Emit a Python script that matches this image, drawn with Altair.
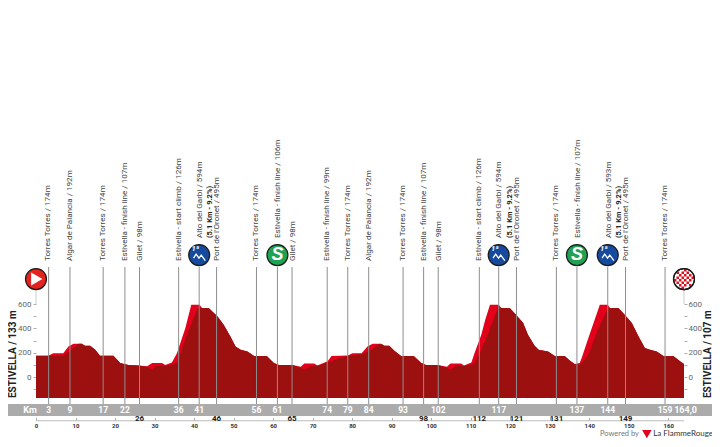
import altair as alt
import pandas as pd

# ---- profile (km, metres) ----
top_km = [0, 3.1, 4.4, 6.9, 8.2, 9.5, 11.6, 12.4, 13.7, 15.0, 16.2, 19.6, 21.3, 23.4, 26.0, 28.1, 29.4, 31.9, 32.7, 34.4, 35.7, 37.8, 39.3, 41.4, 42.0, 43.7, 45.9, 47.5, 49.2, 50.5, 51.8, 53.5, 55.2, 58.4, 60.2, 61.5, 64.9, 67.0, 67.9, 70.4, 71.2, 73.8, 74.8, 78.9, 80.1, 82.4, 83.9, 85.2, 87.3, 88.2, 89.4, 90.7, 92.4, 95.6, 97.5, 98.7, 101.7, 104.0, 104.9, 107.6, 108.3, 110.2, 111.0, 112.7, 113.7, 114.9, 117.1, 117.8, 119.9, 121.6, 123.3, 124.5, 126.2, 127.2, 129.6, 131.3, 133.8, 135.1, 136.4, 137.6, 138.1, 139.8, 142.7, 144.7, 145.3, 147.4, 149.1, 150.8, 152.5, 154.1, 155.4, 157.1, 158.8, 161.3, 163.0, 164]
top_m = [175, 175, 195, 195, 252, 274, 274, 258, 258, 225, 175, 175, 115, 99, 96, 88, 115, 115, 100, 120, 197, 403, 595, 595, 567, 567, 499, 430, 334, 252, 225, 211, 173, 173, 115, 99, 99, 85, 112, 112, 96, 129, 173, 178, 195, 195, 252, 274, 274, 258, 258, 216, 173, 173, 115, 99, 99, 85, 112, 112, 96, 120, 197, 348, 470, 595, 595, 567, 567, 507, 444, 348, 258, 225, 211, 173, 173, 137, 107, 115, 156, 321, 595, 595, 567, 567, 507, 444, 334, 238, 225, 211, 173, 173, 129, 107]

dark_km = [0, 3.1, 6.9, 8.9, 10.8, 11.6, 12.4, 13.7, 15.0, 16.2, 19.6, 21.3, 23.4, 26.0, 28.1, 29.4, 30.3, 32.0, 33.0, 35.7, 38.2, 40.7, 41.4, 42.0, 43.7, 45.9, 47.5, 49.2, 50.5, 51.8, 53.5, 55.2, 58.4, 60.2, 61.5, 64.9, 67.0, 67.9, 69.6, 71.7, 73.4, 74.8, 76.7, 78.9, 82.7, 84.8, 86.5, 87.3, 88.2, 89.4, 90.7, 92.4, 95.6, 97.5, 98.7, 101.7, 104.0, 104.9, 106.4, 108.5, 110.2, 111.0, 112.7, 114.8, 116.9, 117.8, 119.9, 121.6, 123.3, 124.5, 126.2, 127.2, 129.6, 131.3, 133.8, 135.1, 136.4, 137.9, 139.8, 141.9, 144.7, 145.3, 147.4, 149.1, 150.8, 152.5, 154.1, 155.4, 157.1, 158.8, 161.3, 163.0, 164]
dark_m = [175, 175, 175, 225, 274, 274, 258, 258, 225, 175, 175, 115, 99, 96, 82, 60, 88, 96, 88, 115, 348, 553, 573, 567, 567, 499, 430, 334, 252, 225, 211, 173, 173, 115, 99, 99, 74, 60, 88, 96, 115, 129, 156, 173, 189, 225, 266, 274, 258, 258, 216, 173, 173, 115, 99, 99, 74, 60, 96, 90, 101, 115, 225, 389, 567, 567, 567, 507, 444, 348, 258, 225, 211, 173, 173, 137, 101, 107, 184, 362, 567, 567, 567, 507, 444, 334, 238, 225, 211, 173, 173, 129, 107]

# ---- waypoints ----
mark_pos = [3.2, 8.6, 17.0, 22.5, 26.2, 36.1, 41.3, 45.7, 55.8, 61.1, 64.8, 73.7, 78.9, 84.2, 92.9, 98.1, 101.8, 112.2, 117.1, 121.6, 131.7, 136.9, 144.7, 149.2, 159.2]
mark_km = ["3", "9", "17", "22", "26", "36", "41", "46", "56", "61", "65", "74", "79", "84", "93", "98", "102", "112", "117", "121", "131", "137", "144", "149", "159"]
mark_low = [False, False, False, False, True, False, False, True, False, False, True, False, False, False, False, True, False, True, False, True, True, False, False, True, False]
mark_text = ["Torres Torres / 174m", "Algar de Palancia / 192m", "Torres Torres / 174m", "Estivella - finish line / 107m", "Gilet / 98m", "Estivella - start climb / 126m", "Alto del Garbi / 594m", "Port de l'Oronet / 495m", "Torres Torres / 174m", "Estivella - finish line / 106m", "Gilet / 98m", "Estivella - finish line / 99m", "Torres Torres / 174m", "Algar de Palancia / 192m", "Torres Torres / 174m", "Estivella - finish line / 107m", "Gilet / 98m", "Estivella - start climb / 126m", "Alto del Garbi / 594m", "Port de l'Oronet / 495m", "Torres Torres / 174m", "Estivella - finish line / 107m", "Alto del Garbi / 593m", "Port de l'Oronet / 495m", "Torres Torres / 174m"]
text_pos = [3.1, 8.7, 17.0, 22.6, 26.4, 36.1, 41.6, 45.9, 55.8, 61.3, 65.0, 73.7, 78.9, 84.2, 92.9, 98.1, 101.9, 112.2, 117.3, 121.7, 131.7, 137.2, 145.1, 149.3, 159.2]
text_base = [953, 953, 953, 953, 953, 953, 1142, 953, 953, 1142, 953, 953, 953, 953, 953, 953, 953, 953, 1142, 953, 953, 1142, 1142, 953, 953]
bold_pos = [44.1, 119.9, 147.5]
bold_text = ["(5.1 Km - 9.2%)", "(5.1 Km - 9.2%)", "(5.1 Km - 9.2%)"]

kom_pos = [41.3, 117.1, 144.7]
sprint_pos = [61.1, 136.9]
band_km = [-8.9, -7.4, 171.8, 173.4]
band_lo = [-222, -320, -320, -320]
band_hi = [-222, -222, -222, -320]

ys = alt.Scale(domain=[-172, 3032], nice=False, zero=False)
xs = alt.Scale(domain=[0, 164], nice=False, zero=False)
FONT = "Roboto"

XAXIS = alt.Axis(
    values=list(range(0, 170, 10)), orient="bottom", offset=19.5, domain=False, grid=False,
    tickSize=3, tickColor="#999999", tickWidth=0.8, labelFont=FONT, labelFontSize=6,
    labelFontWeight="bold", labelColor="#333333", labelPadding=2, title=None, labelFlush=False)

def X(f="x"):
    return alt.X(f"{f}:Q", scale=xs, axis=XAXIS)

def Y(f="y"):
    return alt.Y(f"{f}:Q", scale=ys, axis=None)

top_df = pd.DataFrame({"x": top_km, "y": top_m, "b": -172})
dark_df = pd.DataFrame({"x": dark_km, "y": dark_m, "b": -172})
marks_df = pd.DataFrame({"x": mark_pos, "km": mark_km, "low": mark_low, "y": 904, "y2": -222})
labels_df = pd.DataFrame({"x": text_pos, "t": mark_text, "y": text_base})
bold_df = pd.DataFrame({"x": bold_pos, "t": bold_text, "y": 1142})

layers = []

layers.append(
    alt.Chart(top_df).mark_area(color="#e2001a", line=False, interpolate="linear").encode(
        x=X(),
        y=alt.Y("y:Q", scale=ys, axis=alt.Axis(
            values=[-100, 0, 100, 200, 300, 400, 500, 600], orient="left", domain=False, grid=False,
            tickSize=3, tickColor="#999999", tickWidth=0.8, labelFont=FONT, labelFontSize=8,
            labelColor="#666666", labelPadding=2, title=None,
            labelExpr="datum.value >= 0 && datum.value % 200 == 0 ? datum.label : ''")),
        y2="b:Q",
    )
)
layers.append(
    alt.Chart(dark_df).mark_area(color="#9c1010", interpolate="linear").encode(x=X(), y=Y(), y2="b:Q")
)
layers.append(
    alt.Chart(dark_df).mark_line(opacity=0).encode(
        x=X(),
        y=alt.Y("y:Q", scale=ys, axis=alt.Axis(
            values=[-100, 0, 100, 200, 300, 400, 500, 600], orient="right", domain=False, grid=False,
            tickSize=3, tickColor="#999999", tickWidth=0.8, labelFont=FONT, labelFontSize=8,
            labelColor="#666666", labelPadding=1, title=None,
            labelExpr="datum.value >= 0 && datum.value % 200 == 0 ? datum.label : ''")),
    )
)
layers.append(
    alt.Chart(pd.DataFrame({"x": band_km, "y": band_lo, "y2": band_hi})).mark_area(color="#ababab", interpolate="linear").encode(
        x=X(), y=Y(), y2="y2:Q")
)
layers.append(
    alt.Chart(pd.DataFrame({"x": [0], "x2": [164], "y": [-359]})).mark_rule(color="#bbbbbb", strokeWidth=1).encode(
        x=X(), x2="x2:Q", y=Y())
)
layers.append(
    alt.Chart(marks_df).mark_rule(color="#8e8e8e", strokeWidth=1).encode(x=X(), y=Y(), y2="y2:Q")
)
layers.append(
    alt.Chart(pd.DataFrame({"x": [0, 164], "y": [715, 715], "y2": [600, 600]})).mark_rule(color="#dddddd", strokeWidth=1.5).encode(
        x=X(), y=Y(), y2="y2:Q")
)
layers.append(
    alt.Chart(labels_df).mark_text(font=FONT, fontSize=8.1, angle=270, align="left", baseline="middle", color="#444444").encode(
        x=X(), y=Y(), text="t:N")
)
layers.append(
    alt.Chart(bold_df).mark_text(font=FONT, fontSize=7.5, fontWeight="bold", angle=270, align="left", baseline="middle", color="#222222").encode(
        x=X(), y=Y(), text="t:N")
)
layers.append(
    alt.Chart(marks_df[~marks_df.low].assign(y=-271)).mark_text(font=FONT, fontSize=8.5, fontWeight="bold", color="#ffffff").encode(
        x=X(), y=Y(), text="km:N")
)
layers.append(
    alt.Chart(marks_df[marks_df.low].assign(y=-347)).mark_text(font=FONT, fontSize=8, fontWeight="bold", color="#1a1a1a").encode(
        x=X(), y=Y(), text="km:N")
)
layers.append(
    alt.Chart(pd.DataFrame({"x": [-1.5, 164.4], "y": [-271, -271], "t": ["Km", "164,0"]})).mark_text(font=FONT, fontSize=9, fontWeight="bold", color="#ffffff").encode(
        x=X(), y=Y(), text="t:N")
)
layers.append(
    alt.Chart(pd.DataFrame({"x": [-5.7, 170.0], "y": [-172, -172], "t": ["ESTIVELLA / 133 m", "ESTIVELLA / 107 m"]})).mark_text(
        font=FONT, fontSize=10, fontWeight="bold", angle=270, align="left", baseline="middle", color="#222222").encode(
        x=X(), y=Y(), text="t:N")
)

def circle(df, color):
    return alt.Chart(df).mark_point(shape="circle", filled=True, size=440, fill=color, stroke="#1a1a1a", strokeWidth=1.2, opacity=1).encode(x=X(), y=Y())

layers.append(circle(pd.DataFrame({"x": [0], "y": [805]}), "#e3231f"))
layers.append(alt.Chart(pd.DataFrame({"x": [0.2], "y": [805]})).mark_point(shape="triangle-right", filled=True, size=170, color="#ffffff", opacity=1).encode(x=X(), y=Y()))

squares = []
n = 8
step = 2 / n
for i in range(n):
    for j in range(n):
        if (i + j) % 2 == 0:
            cx, cy = -1 + step * (i + .5), -1 + step * (j + .5)
            if cx * cx + cy * cy < .85:
                a, b = -1 + step * i, -1 + step * j
                squares.append(f"M{a},{b}h{step}v{step}h{-step}z")
layers.append(circle(pd.DataFrame({"x": [164], "y": [805]}), "#ffffff"))
layers.append(alt.Chart(pd.DataFrame({"x": [164], "y": [805]})).mark_point(shape="".join(squares), filled=True, size=400, color="#d8121f", opacity=1).encode(x=X(), y=Y()))
layers.append(alt.Chart(pd.DataFrame({"x": [164], "y": [805]})).mark_point(shape="circle", filled=False, size=440, stroke="#1a1a1a", strokeWidth=1.2, opacity=1).encode(x=X(), y=Y()))

kom_df = pd.DataFrame({"x": kom_pos, "y": 1002})
layers.append(circle(kom_df, "#154a9e"))
layers.append(alt.Chart(kom_df).mark_point(shape="M-0.55,0.3 L-0.3,-0.1 L-0.02,0.3 L0.2,0.0 L0.6,0.55", filled=False, size=420, stroke="#ffffff", strokeWidth=1.3, opacity=1).encode(x=X(), y=Y()))
layers.append(alt.Chart(kom_df.assign(x=lambda d: d.x - 1.0, y=1052, t="1ª")).mark_text(font=FONT, fontSize=7.5, fontWeight="bold", fontStyle="italic", color="#ffffff").encode(x=X(), y=Y(), text="t:N"))

sprint_df = pd.DataFrame({"x": sprint_pos, "y": 1002, "t": "S"})
layers.append(circle(sprint_df, "#1fa252"))
layers.append(alt.Chart(sprint_df).mark_text(font="Liberation Sans", fontSize=18, fontWeight="bold", fontStyle="italic", color="#ffffff", baseline="middle").encode(x=X(), y=Y(), text="t:N"))

layers.append(alt.Chart(pd.DataFrame({"x": [152.6], "y": [-468], "t": ["Powered by"]})).mark_text(font="Lato", fontSize=7.5, color="#777777", align="right", baseline="middle").encode(x=X(), y=Y(), text="t:N"))
layers.append(alt.Chart(pd.DataFrame({"x": [154.6], "y": [-468]})).mark_point(shape="triangle-down", filled=True, size=90, color="#e2001a", opacity=1).encode(x=X(), y=Y()))
layers.append(alt.Chart(pd.DataFrame({"x": [156.2], "y": [-468], "t": ["La FlammeRouge"]})).mark_text(font="Lato", fontSize=8, color="#333333", align="left", baseline="middle").encode(x=X(), y=Y(), text="t:N"))

chart = (
    alt.layer(*layers)
    .resolve_scale(y="independent")
    .properties(
        width=648,
        height=390,
        autosize=alt.AutoSizeParams(type="none"),
        padding={"left": 28, "top": 0, "right": 28, "bottom": 41},
        background="#ffffff",
    )
    .configure_view(stroke=None)
)
chart.save("out.html", embed_options={"renderer": "svg", "actions": False})
